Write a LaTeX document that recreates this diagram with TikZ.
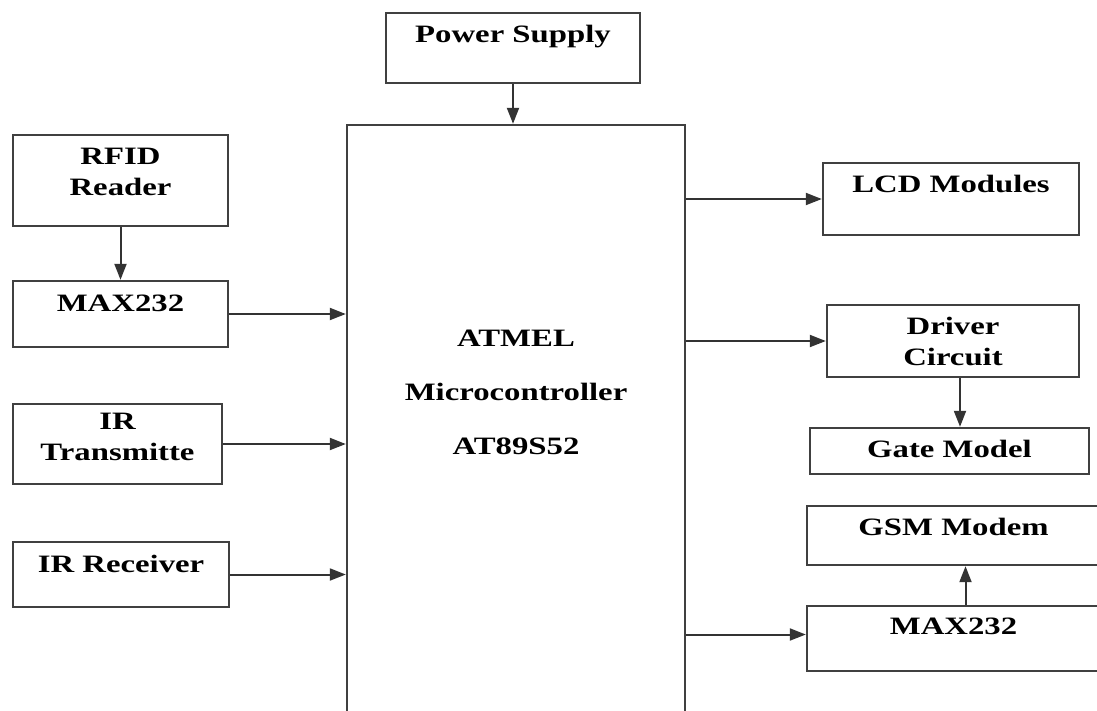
\documentclass[tikz,border=0pt]{standalone}
\usepackage{fontspec}
\setmainfont{Liberation Serif}[FakeStretch=1.31]
\usetikzlibrary{arrows.meta}

\begin{document}
\begin{tikzpicture}[x=1pt,y=-1pt,
    font=\bfseries\fontsize{25}{31}\selectfont,
    block/.style={draw=black!75,line width=2.4pt,inner sep=0pt},
    txt/.style={anchor=north,inner sep=0pt,align=center,yshift=-13pt},
    >={Triangle[length=16pt,width=12pt]}]
    % Page:
    % Coordinates are given in pixels of the page, the y axis points down
    \useasboundingbox (0,0) rectangle (1097,710);
    \clip (0,0) rectangle (1097,710);

    % Blocks:
    % Empty boxes of fixed size, the text is put near the top as a label
    \node [block,minimum width=254pt,minimum height=70pt,
           label={[txt]north:Power Supply}] (supply) at (513,48) {};
    \node [block,minimum width=338pt,minimum height=635pt,
           label={[txt,yshift=-193pt,font=\bfseries\fontsize{25}{54}\selectfont]north:ATMEL\\Microcontroller\\AT89S52}] (mcu) at (516,442.5) {};

    % Inputs on the left:
    \node [block,minimum width=215pt,minimum height=91pt,
           label={[txt,yshift=-1pt]north:RFID\\Reader}] (rfid) at (120.5,180.5) {};
    \node [block,minimum width=215pt,minimum height=66pt,
           label={[txt,yshift=-2pt]north:MAX232}] (maxin) at (120.5,314) {};
    \node [block,minimum width=209pt,minimum height=80pt,
           label={[txt,yshift=3pt]north:IR\\Transmitte}] (irtx) at (117.5,444) {};
    \node [block,minimum width=216pt,minimum height=65pt,
           label={[txt,yshift=-1pt]north:IR Receiver}] (irrx) at (121,574.5) {};

    % Outputs on the right:
    \node [block,minimum width=256pt,minimum height=72pt,
           label={[txt]north:LCD Modules}] (lcd) at (951,199) {};
    \node [block,minimum width=252pt,minimum height=72pt,
           label={[txt]north:Driver\\Circuit}] (driver) at (953,341) {};
    \node [block,minimum width=279pt,minimum height=46pt,
           label={[txt]north:Gate Model}] (gate) at (949.5,451) {};
    \node [block,minimum width=293pt,minimum height=59pt,
           label={[txt]north:GSM Modem}] (gsm) at (953.5,535.5) {};
    \node [block,minimum width=293pt,minimum height=65pt,
           label={[txt]north:MAX232}] (maxout) at (953.5,638.5) {};

    % Connections:
    \begin{scope}[line width=2pt,draw=black!80]
    \draw [->] (supply.south) -- (supply.south |- mcu.north);
    \draw [->] (rfid.south) -- (maxin.north);
    \draw [->] (maxin.east) -- (maxin.east -| mcu.west);
    \draw [->] (irtx.east) -- (irtx.east -| mcu.west);
    \draw [->] (irrx.east) -- (irrx.east -| mcu.west);
    \draw [->] (mcu.east |- lcd.west) -- (lcd.west);
    \draw [->] (mcu.east |- driver.west) -- (driver.west);
    \draw [->] ([xshift=7pt]driver.south) -- ([xshift=7pt]driver.south |- gate.north);
    \draw [->] ([yshift=4pt]mcu.east |- maxout.west) -- ([yshift=4pt]maxout.west);
    \draw [->] ([xshift=12pt]maxout.north) -- ([xshift=12pt]maxout.north |- gsm.south);
    \end{scope}
\end{tikzpicture}
\end{document}
